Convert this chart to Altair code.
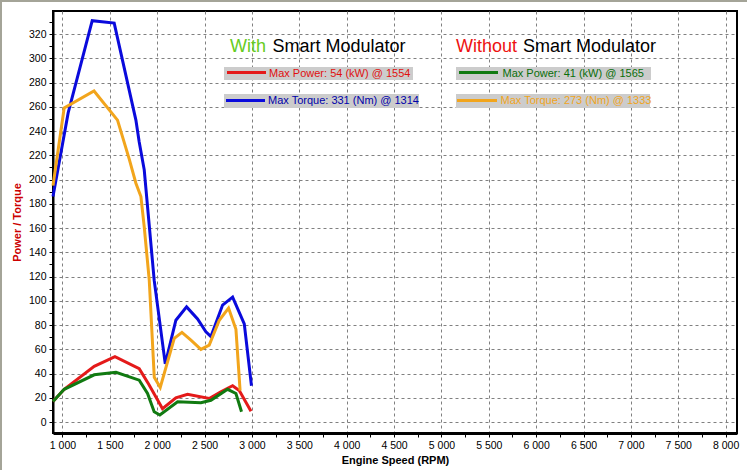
import altair as alt
import pandas as pd

# ---- data ----
rpm_torque_with = [900, 1060, 1314, 1546, 1775, 1810, 1863, 1968, 2085, 2197, 2310, 2426, 2514, 2567, 2690, 2796, 2919, 2995]
torque_with = [186, 255, 331, 329, 249, 231, 208, 117, 48, 84, 95, 85, 74.5, 70.5, 96.5, 103, 81, 30]

rpm_torque_without = [900, 1018, 1333, 1581, 1704, 1775, 1828, 1863, 1916, 1969, 2032, 2180, 2261, 2356, 2461, 2549, 2655, 2753, 2831, 2875]
torque_without = [195, 259, 273, 249, 217, 197, 186, 161, 117, 37, 28.5, 69, 74, 67.5, 60, 63.5, 84, 94, 76.5, 26]

rpm_power_with = [900, 1018, 1335, 1554, 1810, 1912, 2056, 2197, 2320, 2549, 2672, 2796, 2866, 2990]
power_with = [17, 27, 46, 54, 44, 31, 11, 20, 23, 19.5, 25, 30, 26, 9]

rpm_power_without = [900, 1018, 1335, 1565, 1810, 1898, 1968, 2028, 2215, 2461, 2567, 2743, 2831, 2890]
power_without = [17, 27, 39, 41, 34.6, 23.6, 8.5, 5.8, 16.8, 16, 18, 27, 23.6, 8.5]

series_names = ["Torque with", "Power with", "Torque without", "Power without"]
series_colors = ["#0a0adc", "#e41a1a", "#f2a51c", "#117a11"]

legend_texts = [
    "Max Power: 54 (kW) @ 1554",
    "Max Torque: 331 (Nm) @ 1314",
    "Max Power: 41 (kW) @ 1565",
    "Max Torque: 273 (Nm) @ 1333",
]
legend_text_colors = ["#e01010", "#0000aa", "#0a6e0a", "#f0a41c"]
legend_line_colors = ["#e41a1a", "#0a0adc", "#117a11", "#f2a51c"]

rows = []
for name, xs, ys in [
    ("Torque with", rpm_torque_with, torque_with),
    ("Power with", rpm_power_with, power_with),
    ("Torque without", rpm_torque_without, torque_without),
    ("Power without", rpm_power_without, power_without),
]:
    for i, (x, y) in enumerate(zip(xs, ys)):
        rows.append({"series": name, "rpm": x, "value": y, "order": i})
df = pd.DataFrame(rows)

FONT = "Liberation Sans"
W, H = 684, 422
OX, OY = 53, 11  # plot origin in page pixels

x_scale = alt.Scale(domain=[900, 8120], nice=False, zero=False)
y_scale = alt.Scale(domain=[-9, 339], nice=False, zero=False)

x_axis = alt.Axis(
    values=list(range(1000, 8001, 250)),
    format=",d",
    labelExpr="datum.value % 500 === 0 ? replace(datum.label, ',', ' ') : ''",
    gridOpacity={"condition": {"test": "datum.value % 500 === 0", "value": 1}, "value": 0},
    title="Engine Speed (RPM)",
    titleX=W / 2,
    titleY=27,
    titleBaseline="middle",
    titleAlign="center",
    titleColor="#000000",
    labelPadding=3,
    domainWidth=3,
)
y_axis = alt.Axis(
    values=list(range(0, 331, 10)),
    format="d",
    labelExpr="datum.value % 20 === 0 ? datum.label : ''",
    gridOpacity={"condition": {"test": "datum.value % 20 === 0", "value": 1}, "value": 0},
    title="Power / Torque",
    titleX=-36,
    titleY=H / 2,
    titleAngle=270,
    titleBaseline="middle",
    titleAlign="center",
    titleColor="#cc0000",
    labelPadding=3,
    domainWidth=2,
)

layers = []
base = alt.Chart(df)
for name, color in zip(series_names, series_colors):
    layers.append(
        base.transform_filter(alt.datum.series == name)
        .mark_line(strokeWidth=3)
        .encode(
            x=alt.X("rpm:Q", scale=x_scale, axis=x_axis),
            y=alt.Y("value:Q", scale=y_scale, axis=y_axis),
            order="order:Q",
            color=alt.value(color),
        )
    )

one = alt.Data(values=[{}])


def rx(px):
    return px - OX


def ry(py):
    return py - OY


# headings
headings = [
    ("With", 230, "#66cc22"),
    ("Smart Modulator", 272.5, "#000000"),
    ("Without", 456, "#ee1111"),
    ("Smart Modulator", 523, "#000000"),
]
for txt, xpix, col in headings:
    layers.append(
        alt.Chart(one)
        .mark_text(font=FONT, fontSize=18, align="left", baseline="alphabetic", color=col)
        .encode(x=alt.value(rx(xpix)), y=alt.value(ry(52)), text=alt.value(txt))
    )

# legend boxes
boxes = [(224, 413, 67, 80), (224, 419, 94, 108), (456, 651, 67, 80), (456, 650, 94, 108)]
lines_pos = [(227, 266, 72.5), (226, 265, 100.5), (459, 498, 72.5), (457, 497, 100.5)]
text_pos = [(269, 73.5), (268, 101), (502.5, 73.5), (500.5, 101)]
for i in range(4):
    x1, x2, y1, y2 = boxes[i]
    layers.append(
        alt.Chart(one)
        .mark_rect(color="#cccccc")
        .encode(x=alt.value(rx(x1)), x2=alt.value(rx(x2)), y=alt.value(ry(y1)), y2=alt.value(ry(y2)))
    )
    lx1, lx2, ly = lines_pos[i]
    layers.append(
        alt.Chart(one)
        .mark_rule(strokeWidth=3, color=legend_line_colors[i])
        .encode(x=alt.value(rx(lx1)), x2=alt.value(rx(lx2)), y=alt.value(ry(ly)))
    )
    tx, ty = text_pos[i]
    layers.append(
        alt.Chart(one)
        .mark_text(font=FONT, fontSize=11, align="left", baseline="middle", color=legend_text_colors[i])
        .encode(x=alt.value(rx(tx)), y=alt.value(ry(ty)), text=alt.value(legend_texts[i]))
    )

# window-style border top/left
layers.append(
    alt.Chart(one)
    .mark_rule(strokeWidth=2, color="#a4a498", clip=False)
    .encode(x=alt.value(rx(1)), y=alt.value(ry(0)), y2=alt.value(ry(470)))
)
layers.append(
    alt.Chart(one)
    .mark_rule(strokeWidth=2, color="#a4a498", clip=False)
    .encode(x=alt.value(rx(0)), x2=alt.value(rx(747)), y=alt.value(ry(1)))
)

chart = (
    alt.layer(*layers)
    .properties(
        width=W,
        height=H,
        autosize=alt.AutoSizeParams(type="none"),
        padding={"left": OX, "top": OY, "right": 747 - OX - W, "bottom": 470 - OY - H},
        background="#ffffff",
    )
    .configure_view(stroke="#000000", strokeWidth=2)
    .configure_axis(
        labelFont=FONT,
        labelFontSize=10.5,
        labelColor="#000000",
        titleFont=FONT,
        titleFontSize=11,
        titleFontWeight="bold",
        tickColor="#000000",
        tickSize=4,
        tickWidth=1,
        domainColor="#000000",
        gridColor="#808080",
        gridDash=[3, 3],
        gridWidth=1,
        labelOverlap=False,
        labelFlush=False,
    )
)

chart.save("out.html", embed_options={"renderer": "svg", "actions": False})
